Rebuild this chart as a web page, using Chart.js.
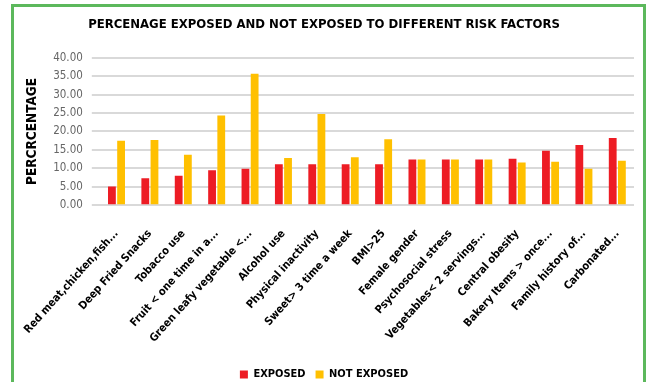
<!DOCTYPE html>
<html>
<head>
<meta charset="utf-8">
<script src="https://cdn.jsdelivr.net/npm/chart.js@4"></script>
<style>
  html, body { margin: 0; padding: 0; background: #fff; }
  #frame {
    position: absolute; left: 11px; top: 4px; width: 635px; height: 382px;
    border: 3px solid #5cb85c; border-bottom: none; box-sizing: border-box;
  }
  #wrap { position: absolute; left: 0; top: 0; width: 648px; height: 382px; }
</style>
</head>
<body>
<div id="frame"></div>
<div id="wrap"><canvas id="canvas" width="648" height="382"></canvas></div>
<script>
const categories = [
  'Red meat,chicken,fish...', 'Deep Fried Snacks', 'Tobacco use', 'Fruit < one time in a...',
  'Green leafy vegetable <...', 'Alcohol use', 'Physical inactivity', 'Sweet> 3 time a week',
  'BMI>25', 'Female gender', 'Psychosocial stress', 'Vegetables< 2 servings...',
  'Central obesity', 'Bakery Items > once...', 'Family history of...', 'Carbonated...'
]
const exposed = [5.1, 7.3, 8.0, 9.5, 9.9, 11.1, 11.1, 11.1, 11.1, 12.4, 12.4, 12.4, 12.6, 14.8, 16.3, 18.2]
const notExposed = [17.5, 17.7, 13.7, 24.3, 35.6, 12.8, 24.7, 13.0, 17.9, 12.4, 12.4, 12.4, 11.6, 11.8, 9.9, 12.1]

const font = "'DejaVu Sans Condensed', 'DejaVu Sans', sans-serif"

const data = {
  labels: categories,
  datasets: [
    {
      label: 'EXPOSED',
      backgroundColor: '#ED1C24',
      data: exposed,
      categoryPercentage: 0.55,
      barPercentage: 0.85,
    },
    {
      label: 'NOT EXPOSED',
      backgroundColor: '#FFC000',
      data: notExposed,
      categoryPercentage: 0.55,
      barPercentage: 0.85,
    },
  ],
}

const config = {
  type: 'bar',
  data: data,
  options: {
    responsive: false,
    animation: false,
    layout: { padding: { left: 14, right: 14, top: 10, bottom: -8 } },
    plugins: {
      title: {
        display: true,
        text: 'PERCENAGE EXPOSED AND NOT EXPOSED TO DIFFERENT RISK FACTORS',
        color: '#000',
        font: { family: font, size: 13, weight: 'bold' },
        padding: { top: 7, bottom: 25 },
      },
      legend: {
        position: 'bottom',
        labels: {
          color: '#000',
          boxWidth: 8,
          boxHeight: 8,
          padding: 10,
          font: { family: font, size: 11, weight: 'bold' },
        },
      },
      tooltip: { enabled: false },
    },
    scales: {
      x: {
        grid: { display: false },
        border: { display: false },
        ticks: {
          color: '#000',
          minRotation: 48,
          maxRotation: 48,
          autoSkip: false,
          padding: 14,
          font: { family: font, size: 11, weight: 'bold' },
        },
      },
      y: {
        min: 0,
        max: 40,
        border: { display: false },
        grid: { color: '#d9d9d9', lineWidth: 2 },
        ticks: {
          stepSize: 5,
          autoSkip: false,
          color: '#666666',
          padding: 9,
          font: { family: font, size: 11.5 },
          callback: v => v.toFixed(2),
        },
        title: {
          display: true,
          text: 'PERCRCENTAGE',
          color: '#000',
          padding: { top: 10, bottom: 4 },
          font: { family: font, size: 13.5, weight: 'bold' },
        },
      },
    },
  },
}

const canvas = document.getElementById('canvas')
const chart = new Chart(canvas, config)
</script>
</body>
</html>
